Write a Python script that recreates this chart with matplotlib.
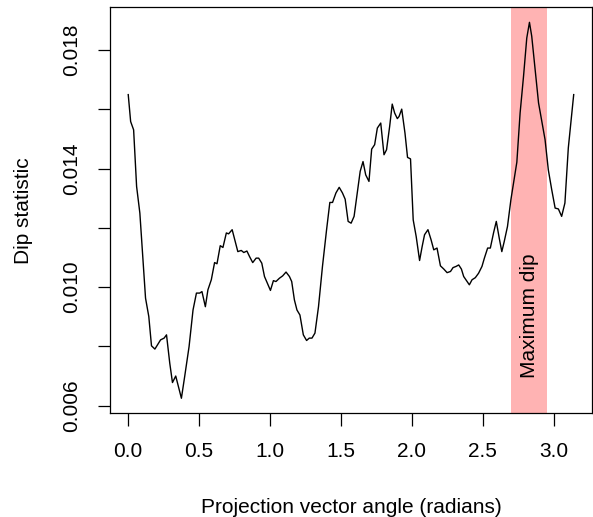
"""
Dip statistic against projection vector angle, with the maximum dip shaded.
"""

import numpy as np
import matplotlib
matplotlib.use("Agg")
import matplotlib.pyplot as plt

plt.rcParams["font.family"] = ["Liberation Sans", "DejaVu Sans"]

# angle (radians) and dip statistic
angle = [
    0.000, 0.017, 0.038, 0.059, 0.082, 0.122, 0.145, 0.164, 0.188, 0.228,
    0.253, 0.270, 0.293, 0.312, 0.335, 0.375, 0.398, 0.429, 0.457, 0.481,
    0.504, 0.520, 0.544, 0.562, 0.586, 0.609, 0.626, 0.649, 0.668, 0.692,
    0.708, 0.733, 0.757, 0.773, 0.797, 0.815, 0.837, 0.856, 0.878, 0.902,
    0.920, 0.942, 0.961, 1.003, 1.024, 1.042, 1.066, 1.089, 1.113, 1.137,
    1.153, 1.172, 1.190, 1.211, 1.235, 1.258, 1.277, 1.296, 1.317, 1.342,
    1.370, 1.399, 1.422, 1.441, 1.465, 1.488, 1.511, 1.530, 1.551, 1.572,
    1.593, 1.612, 1.636, 1.656, 1.675, 1.698, 1.717, 1.738, 1.757, 1.781,
    1.804, 1.822, 1.844, 1.862, 1.879, 1.898, 1.910, 1.929, 1.952, 1.970,
    1.991, 2.010, 2.031, 2.055, 2.073, 2.090, 2.114, 2.136, 2.155, 2.178,
    2.202, 2.226, 2.249, 2.273, 2.291, 2.312, 2.331, 2.350, 2.366, 2.390,
    2.406, 2.425, 2.448, 2.471, 2.495, 2.512, 2.535, 2.554, 2.577, 2.596,
    2.617, 2.635, 2.652, 2.675, 2.699, 2.723, 2.741, 2.764, 2.788, 2.811,
    2.830, 2.846, 2.870, 2.894, 2.917, 2.940, 2.963, 2.987, 3.011, 3.034,
    3.057, 3.080, 3.104, 3.142,
]
dip = [
    0.01650, 0.01559, 0.01531, 0.01340, 0.01250, 0.00963, 0.00901, 0.00802, 0.00791, 0.00822,
    0.00828, 0.00839, 0.00743, 0.00678, 0.00700, 0.00625, 0.00698, 0.00799, 0.00923, 0.00980,
    0.00980, 0.00985, 0.00934, 0.00991, 0.01025, 0.01083, 0.01079, 0.01140, 0.01134, 0.01183,
    0.01180, 0.01194, 0.01149, 0.01120, 0.01124, 0.01117, 0.01122, 0.01103, 0.01083, 0.01098,
    0.01098, 0.01081, 0.01036, 0.00989, 0.01022, 0.01019, 0.01030, 0.01038, 0.01051, 0.01036,
    0.01019, 0.00957, 0.00923, 0.00906, 0.00839, 0.00820, 0.00828, 0.00828, 0.00845, 0.00934,
    0.01070, 0.01194, 0.01286, 0.01286, 0.01318, 0.01337, 0.01318, 0.01297, 0.01222, 0.01216,
    0.01239, 0.01306, 0.01391, 0.01424, 0.01379, 0.01357, 0.01466, 0.01481, 0.01537, 0.01554,
    0.01447, 0.01464, 0.01543, 0.01618, 0.01588, 0.01569, 0.01576, 0.01601, 0.01520, 0.01438,
    0.01433, 0.01227, 0.01171, 0.01090, 0.01137, 0.01177, 0.01194, 0.01160, 0.01126, 0.01132,
    0.01072, 0.01061, 0.01049, 0.01053, 0.01066, 0.01070, 0.01075, 0.01061, 0.01036, 0.01019,
    0.01008, 0.01025, 0.01032, 0.01047, 0.01070, 0.01098, 0.01132, 0.01132, 0.01184, 0.01222,
    0.01165, 0.01120, 0.01154, 0.01205, 0.01295, 0.01368, 0.01422, 0.01588, 0.01711, 0.01841,
    0.01894, 0.01847, 0.01734, 0.01622, 0.01559, 0.01498, 0.01396, 0.01329, 0.01267, 0.01264,
    0.01239, 0.01284, 0.01470, 0.01650,
]

band = [2.703, 2.956]
band_label = "Maximum dip"
x_ticks = [0.0, 0.5, 1.0, 1.5, 2.0, 2.5, 3.0]
y_ticks = [0.006, 0.008, 0.010, 0.012, 0.014, 0.016, 0.018]
y_labels = ["0.006", "", "0.010", "", "0.014", "", "0.018"]

fig = plt.figure(figsize=(5.93, 5.17), dpi=100)
ax = fig.add_axes([0.1862, 0.2006, 0.9975 - 0.1862, 0.9859 - 0.2006])

ax.axvspan(band[0], band[1], color="#ffb3b3", lw=0, zorder=1)
ax.plot(angle, dip, color="black", lw=1.0, zorder=2)
ax.text(sum(band) / 2, 0.00694, band_label, rotation=90, ha="center",
        va="bottom", fontsize=15, zorder=3)

# R style 4% padding on both axes
xr = max(angle) - min(angle)
yr = max(dip) - min(dip)
ax.set_xlim(min(angle) - 0.04 * xr, max(angle) + 0.04 * xr)
ax.set_ylim(min(dip) - 0.04 * yr, max(dip) + 0.04 * yr)

ax.set_xticks(x_ticks)
ax.set_xticklabels([f"{t:.1f}" for t in x_ticks])
ax.set_yticks(y_ticks)
ax.set_yticklabels(y_labels, rotation=90, va="center")
ax.tick_params(axis="both", direction="out", length=9, width=0.9,
               labelsize=15, pad=12)

for sp in ax.spines.values():
    sp.set_linewidth(0.9)

ax.set_xlabel("Projection vector angle (radians)", fontsize=15, labelpad=26)
ax.set_ylabel("Dip statistic", fontsize=15, labelpad=21)

fig.savefig("out.png", dpi=100)
